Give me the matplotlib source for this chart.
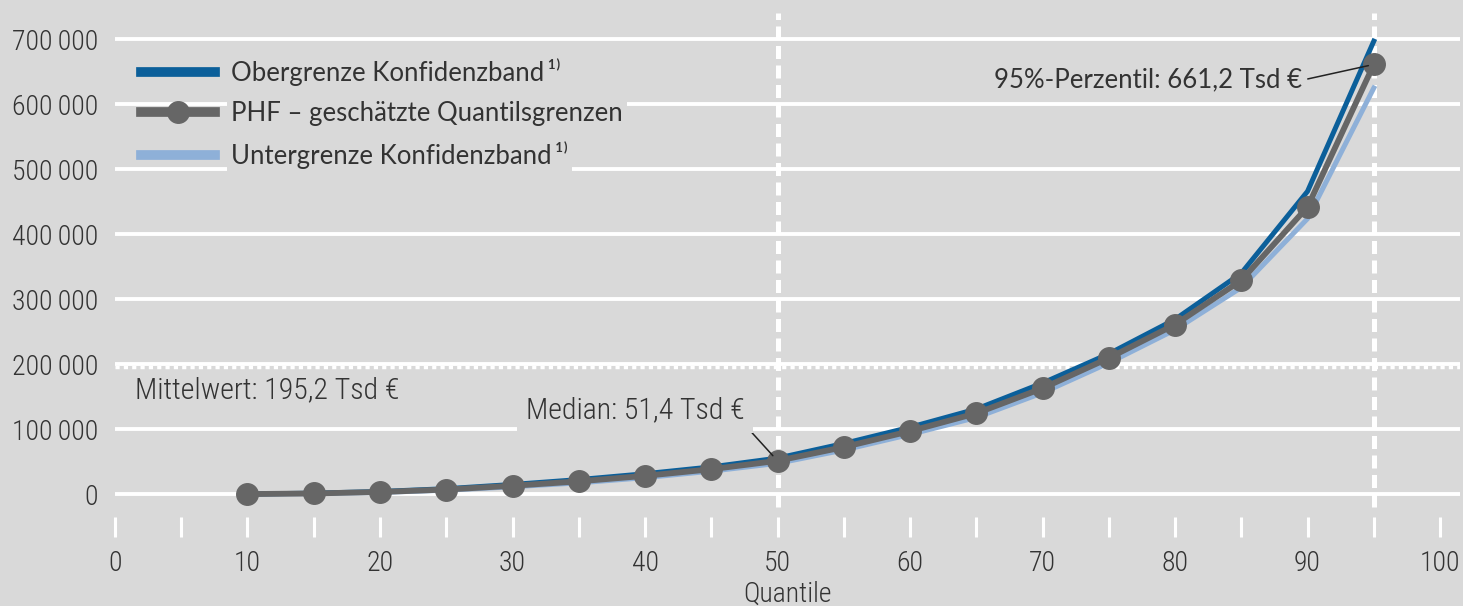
import matplotlib
matplotlib.use("Agg")
import matplotlib.pyplot as plt
from matplotlib.ticker import FuncFormatter, MultipleLocator

# ---------------------- Data ----------------------- #

# quantiles (in %)
QUANTILES = [10, 15, 20, 25, 30, 35, 40, 45, 50, 55, 60, 65, 70, 75, 80, 85, 90, 95]

# PHF estimated quantile limits (euro)
PHF = [200, 1200, 3400, 7200, 13000, 19800, 28300, 38500, 51400, 72500,
       97000, 124500, 163000, 209500, 261000, 329000, 442000, 661200]

# confidence band, upper / lower limit (euro)
UPPER = [400, 1600, 4200, 8500, 15000, 22500, 31500, 42000, 55500, 78000,
         103000, 131000, 171000, 216000, 269000, 340000, 466000, 697000]
LOWER = [100, 900, 2800, 6200, 11500, 17500, 25500, 35500, 47500, 68000,
         92000, 118000, 156000, 202000, 253000, 318000, 424000, 625000]

MEAN = 195200
MEDIAN_Q, MEDIAN = 50, 51400
P95_Q, P95 = 95, 661200

LABELS = ["Obergrenze Konfidenzband\u2009\u00b9\u207e",
          "PHF \u2013 geschätzte Quantilsgrenzen",
          "Untergrenze Konfidenzband\u2009\u00b9\u207e"]

# ---------------------- Style ----------------------- #

BG = "#d9d9d9"
TXT = "#333333"
C_UP = "#0b5f9a"
C_PHF = "#666666"
C_LOW = "#8eb0d8"

NARROW = ["Roboto Condensed", "Archivo Narrow", "Liberation Sans Narrow", "DejaVu Sans"]
REGULAR = ["Lato", "DejaVu Sans"]

fmt_thousands = FuncFormatter(lambda v, p: f"{int(v):,}".replace(",", "\u2009"))

# ---------------------- Plot ----------------------- #

fig = plt.figure(figsize=(14.63, 6.06), dpi=100)
fig.patch.set_facecolor(BG)
ax = fig.add_axes([0.0786, 0.1469, 0.9193, 0.8313])
ax.set_facecolor(BG)
for s in ax.spines.values():
    s.set_visible(False)

ax.set_xlim(0, 101.5)
ax.set_ylim(-35000, 740000)

# horizontal grid
yticks = list(range(0, 700001, 100000))
for yv in yticks:
    ax.axhline(yv, color="white", lw=2.8, zorder=1)

# mean line (dotted)
ax.axhline(MEAN, color="white", lw=2.5, ls=(0, (1.2, 1.2)), zorder=1)

# median / 95% vertical dashed lines
for q in (MEDIAN_Q, P95_Q):
    ax.axvline(q, ymin=0.02, ymax=1.0, color="white", lw=3.6,
               ls=(0, (2.6, 1.3)), zorder=1)

ax.plot(QUANTILES, LOWER, color=C_LOW, lw=3.6, zorder=3, label=LABELS[2])
ax.plot(QUANTILES, UPPER, color=C_UP, lw=3.6, zorder=3, label=LABELS[0])
ax.plot(QUANTILES, PHF, color=C_PHF, lw=4.2, marker="o", markersize=15.5,
        zorder=4, label=LABELS[1])

# axes ticks
ax.xaxis.set_major_locator(MultipleLocator(10))
ax.xaxis.set_minor_locator(MultipleLocator(5))
ax.tick_params(axis="x", which="both", direction="out", length=14.5, width=2.2,
               color="white", pad=9)
ax.tick_params(axis="x", which="major", labelsize=20, labelcolor=TXT)
ax.set_yticks(yticks)
ax.yaxis.set_major_formatter(fmt_thousands)
ax.tick_params(axis="y", length=0, pad=12, labelsize=20, labelcolor=TXT)
for lab in ax.get_xticklabels() + ax.get_yticklabels():
    lab.set_family(NARROW)
    lab.set_fontweight("light")

ax.set_xlabel("Quantile", family=NARROW, fontweight="light", fontsize=20,
              color=TXT, labelpad=3)

# legend
h, l = ax.get_legend_handles_labels()
order = [1, 2, 0]
leg = ax.legend([h[i] for i in order], [l[i] for i in order],
                loc="upper left", bbox_to_anchor=(0.019, 0.91), frameon=False,
                handlelength=2.9, handletextpad=0.62, labelspacing=0.58,
                borderaxespad=0.0, borderpad=0.0,
                prop={"family": REGULAR, "size": 18.5}, labelcolor=TXT)
leg.set_zorder(6)
for line in leg.get_lines():
    line.set_linewidth(7)
for t in leg.get_texts():
    t.set_bbox(dict(facecolor=BG, edgecolor="none", pad=3))

# annotations
ax.text(1.5, 160000, "Mittelwert: 195,2 Tsd €", family=NARROW, fontweight="light",
        fontsize=21.5, color=TXT, ha="left", va="center", zorder=5)

ax.annotate("Median: 51,4 Tsd €", xy=(MEDIAN_Q, MEDIAN), xytext=(47.5, 129000),
            family=NARROW, fontweight="light", fontsize=21.5, color=TXT,
            ha="right", va="center",
            bbox=dict(facecolor=BG, edgecolor="none", pad=6),
            arrowprops=dict(arrowstyle="-", color="#222222", lw=1.1,
                            relpos=(1.0, 0.0), shrinkA=0, shrinkB=5),
            zorder=5)

ax.annotate("95%-Perzentil: 661,2 Tsd €", xy=(P95_Q, P95), xytext=(89.6, 637000),
            family=REGULAR, fontsize=18.5, color=TXT, ha="right", va="center",
            arrowprops=dict(arrowstyle="-", color="#222222", lw=1.1,
                            relpos=(1.0, 0.5), shrinkA=2, shrinkB=4),
            zorder=5)

fig.savefig("out.png", dpi=100, facecolor=BG)
